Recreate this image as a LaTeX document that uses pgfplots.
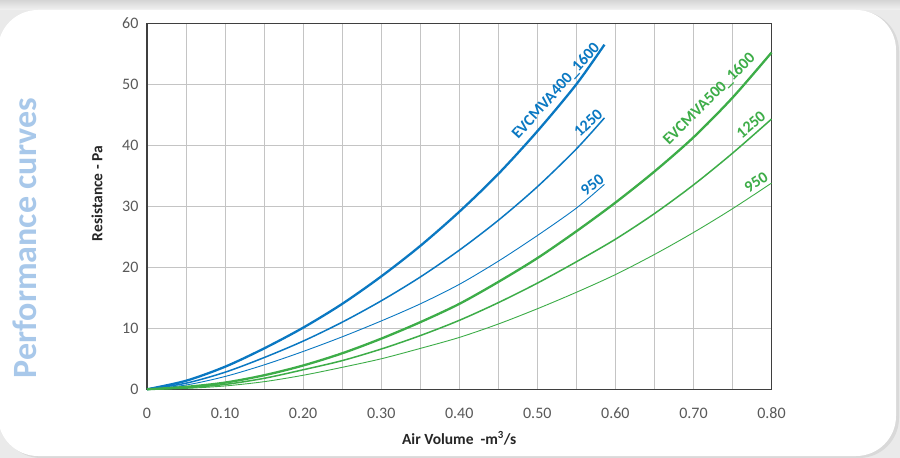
\documentclass[border=0pt]{standalone}
\usepackage{fontspec}
\setmainfont{Carlito}
\usepackage{pgfplots}
\pgfplotsset{compat=1.18}
\definecolor{cblue}{HTML}{0A78C2}
\definecolor{cgreen}{HTML}{3DAD48}
\definecolor{pcblue}{HTML}{A8C8EA}
\definecolor{ticktext}{HTML}{595959}
\definecolor{gridc}{HTML}{C4C4C4}
\definecolor{axisc}{HTML}{3F3F3F}
\definecolor{bgg}{HTML}{EAEAEA}
\begin{document}
\begin{tikzpicture}[x=1pt,y=1pt]
\begin{scope}[shift={(-147,-68.7)}]
\useasboundingbox (0,0) rectangle (900,458);
\fill[bgg] (0,0) rectangle (900,458);
\shade[top color=bgg!80!gray, bottom color=bgg!60!white] (0,448) rectangle (900,458);
\fill[gray!30, rounded corners=40pt] (1,0) rectangle (899,447);
\fill[white, rounded corners=40pt] (-2,2) rectangle (896,448);
\node[rotate=90, text=pcblue, font=\fontsize{34}{34}\selectfont\bfseries] at (25,220) {Performance curves};
\end{scope}
\begin{axis}[
  scale only axis, width=624.5pt, height=366pt,
  xmin=0, xmax=0.8, ymin=0, ymax=60,
  xtick={0,0.1,0.2,0.3,0.4,0.5,0.6,0.7,0.8},
  xticklabels={0,0.10,0.20,0.30,0.40,0.50,0.60,0.70,0.80},
  minor xtick={0.05,0.15,0.25,0.35,0.45,0.55,0.65,0.75},
  ytick={0,10,20,30,40,50,60},
  major tick length=0pt, minor tick length=0pt,
  grid=both,
  major grid style={gridc, line width=0.9pt},
  minor grid style={gridc, line width=0.9pt},
  axis line style={axisc, line width=1.6pt},
  tick label style={text=ticktext, font=\fontsize{16}{16}\selectfont},
  /pgf/number format/assume math mode=true,
  xticklabel style={yshift=-15pt},
  yticklabel style={xshift=-5pt},
  xlabel={Air Volume\ \ -m\textsuperscript{3}/s},
  ylabel={Resistance - Pa},
  label style={font=\fontsize{15.5}{15.5}\selectfont\bfseries, text=black!85},
  xlabel style={at={(axis description cs:0.5,0)}, anchor=center, yshift=-49pt},
  ylabel style={at={(axis description cs:-0.08,0.535)}, anchor=center},
  clip=false,
]
% EVCMVA400 series (blue)
\addplot[cblue, line width=2.3pt, smooth] coordinates {(0,0) (0.05,1.4) (0.10,3.7) (0.15,6.7) (0.20,10.1) (0.25,14.0) (0.30,18.5) (0.35,23.5) (0.40,29.1) (0.45,35.3) (0.50,42.3) (0.55,50.0) (0.586,56.5)};
\addplot[cblue, line width=1.5pt, smooth] coordinates {(0,0) (0.05,1.0) (0.10,2.8) (0.15,5.2) (0.20,7.9) (0.25,11.0) (0.30,14.5) (0.35,18.4) (0.40,22.8) (0.45,27.7) (0.50,33.2) (0.55,39.4) (0.586,44.5)};
\addplot[cblue, line width=0.9pt, smooth] coordinates {(0,0) (0.05,0.7) (0.10,2.1) (0.15,4.0) (0.20,6.2) (0.25,8.6) (0.30,11.2) (0.35,14.0) (0.40,17.2) (0.45,21.0) (0.50,25.2) (0.55,29.7) (0.586,33.6)};
% EVCMVA500 series (green)
\addplot[cgreen, line width=2.3pt, smooth] coordinates {(0,0) (0.05,0.4) (0.10,1.1) (0.15,2.3) (0.20,3.9) (0.25,5.9) (0.30,8.3) (0.35,11.0) (0.40,14.0) (0.45,17.6) (0.50,21.5) (0.55,25.9) (0.60,30.6) (0.65,35.7) (0.70,41.3) (0.75,47.8) (0.80,55.2)};
\addplot[cgreen, line width=1.5pt, smooth] coordinates {(0,0) (0.05,0.25) (0.10,0.8) (0.15,1.8) (0.20,3.2) (0.25,4.7) (0.30,6.6) (0.35,8.8) (0.40,11.3) (0.45,14.2) (0.50,17.4) (0.55,20.9) (0.60,24.6) (0.65,28.8) (0.70,33.5) (0.75,38.7) (0.80,44.3)};
\addplot[cgreen, line width=0.9pt, smooth] coordinates {(0,0) (0.05,0.15) (0.10,0.55) (0.15,1.25) (0.20,2.3) (0.25,3.6) (0.30,5.0) (0.35,6.7) (0.40,8.5) (0.45,10.7) (0.50,13.2) (0.55,15.9) (0.60,18.8) (0.65,22.1) (0.70,25.7) (0.75,29.6) (0.80,33.8)};
% labels
\node[rotate=48, anchor=south east, inner sep=1.5pt, text=cblue, font=\fontsize{16}{16}\selectfont\bfseries] at (axis cs:0.586,55.6) {EVCMVA400\_1600};
\node[rotate=43, anchor=south east, inner sep=1.5pt, text=cblue, font=\fontsize{16}{16}\selectfont\bfseries] at (axis cs:0.588,44.8) {1250};
\node[rotate=37, anchor=south east, inner sep=1.5pt, text=cblue, font=\fontsize{16}{16}\selectfont\bfseries] at (axis cs:0.59,33.9) {950};
\node[rotate=45, anchor=south east, inner sep=1.5pt, text=cgreen, font=\fontsize{16}{16}\selectfont\bfseries] at (axis cs:0.785,53.9) {EVCMVA500\_1600};
\node[rotate=40, anchor=south east, inner sep=1.5pt, text=cgreen, font=\fontsize{16}{16}\selectfont\bfseries] at (axis cs:0.797,44.4) {1250};
\node[rotate=33, anchor=south east, inner sep=1.5pt, text=cgreen, font=\fontsize{16}{16}\selectfont\bfseries] at (axis cs:0.80,34.2) {950};
\end{axis}
\end{tikzpicture}
\end{document}
